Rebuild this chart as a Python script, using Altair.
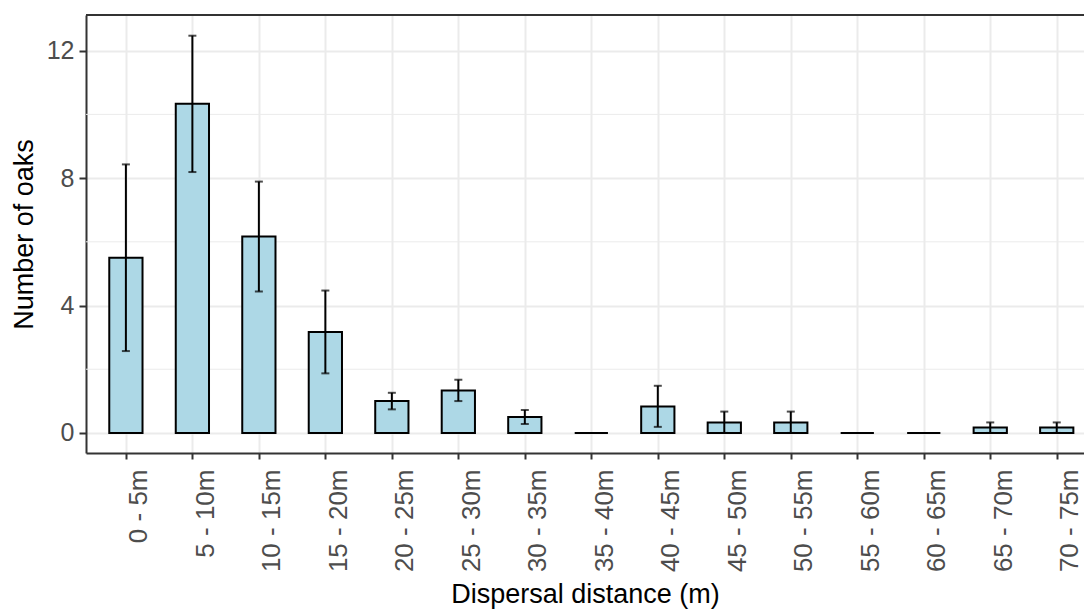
import altair as alt
import pandas as pd

categories = ["0 - 5m", "5 - 10m", "10 - 15m", "15 - 20m", "20 - 25m", "25 - 30m",
              "30 - 35m", "35 - 40m", "40 - 45m", "45 - 50m", "50 - 55m", "55 - 60m",
              "60 - 65m", "65 - 70m", "70 - 75m"]
means = [5.5, 10.33, 6.17, 3.17, 1.0, 1.33, 0.5, 0.0, 0.83, 0.33, 0.33, 0.0, 0.0, 0.17, 0.17]
lower = [2.57, 8.19, 4.44, 1.87, 0.74, 1.0, 0.28, 0.0, 0.19, 0.0, 0.0, 0.0, 0.0, 0.0, 0.0]
upper = [8.43, 12.47, 7.89, 4.47, 1.26, 1.67, 0.72, 0.0, 1.48, 0.67, 0.67, 0.0, 0.0, 0.33, 0.33]
y_ticks = [0, 4, 8, 12]
y_minor = [2, 6, 10]
x_domain = [-0.6, 14.41]
y_domain = [-0.63, 13.12]

df = pd.DataFrame({
    "category": categories,
    "idx": list(range(len(categories))),
    "mean": means,
    "lower": lower,
    "upper": upper,
})

FONT = "Liberation Sans, Arial, sans-serif"
label_expr = "[" + ",".join("'" + c + "'" for c in categories) + "][datum.value]"

x_scale = alt.Scale(domain=x_domain, nice=False, zero=False)
y_scale = alt.Scale(domain=y_domain, nice=False, zero=False)

x_axis = alt.Axis(
    values=list(range(len(categories))), labelExpr=label_expr,
    labelAngle=270, labelAlign="right", labelBaseline="top",
    labelFontSize=26, labelFont=FONT, labelColor="#4D4D4D", labelPadding=10,
    labelOverlap=False, labelFlush=False,
    grid=True, gridColor="#EBEBEB", gridWidth=2,
    tickColor="#333333", tickWidth=2, tickSize=6,
    domainColor="#333333", domainWidth=2,
    title="Dispersal distance (m)", titleFontSize=27, titleFont=FONT,
    titleColor="black", titleFontWeight="normal", titlePadding=10,
)
y_axis = alt.Axis(
    values=y_ticks,
    labelFontSize=25, labelFont=FONT, labelColor="#4D4D4D", labelPadding=5,
    grid=True, gridColor="#EBEBEB", gridWidth=2,
    tickColor="#333333", tickWidth=2, tickSize=7,
    domainColor="#333333", domainWidth=2,
    title="Number of oaks", titleFontSize=27, titleFont=FONT,
    titleColor="black", titleFontWeight="normal", titlePadding=8,
)

base = alt.Chart(df)

minor = alt.Chart(pd.DataFrame({"v": y_minor})).mark_rule(
    color="#EBEBEB", strokeWidth=1
).encode(y=alt.Y("v:Q", scale=y_scale, axis=y_axis))

bars = base.transform_calculate(
    xl="datum.idx - 0.25", xr="datum.idx + 0.25"
).mark_bar(fill="#ADD8E6", stroke="black", strokeWidth=2).encode(
    x=alt.X("xl:Q", scale=x_scale, axis=x_axis),
    x2="xr:Q",
    y=alt.Y("mean:Q", scale=y_scale, axis=y_axis),
    y2=alt.datum(0),
)

err = base.transform_filter("datum.upper > datum.lower")

err_line = err.mark_rule(color="black", strokeWidth=2).encode(
    x=alt.X("idx:Q", scale=x_scale, axis=x_axis),
    y=alt.Y("lower:Q", scale=y_scale, axis=y_axis),
    y2="upper:Q",
)
cap_hi = err.mark_tick(color="black", orient="horizontal", size=8, thickness=2).encode(
    x=alt.X("idx:Q", scale=x_scale, axis=x_axis),
    y=alt.Y("upper:Q", scale=y_scale, axis=y_axis),
)
cap_lo = err.mark_tick(color="black", orient="horizontal", size=8, thickness=2).encode(
    x=alt.X("idx:Q", scale=x_scale, axis=x_axis),
    y=alt.Y("lower:Q", scale=y_scale, axis=y_axis),
)

top_border = alt.Chart(alt.Data(values=[{}])).mark_rule(
    color="#333333", strokeWidth=2
).encode(y=alt.datum(y_domain[1]))

chart = alt.layer(minor, bars, err_line, cap_hi, cap_lo, top_border).properties(
    width=998, height=438,
    autosize=alt.AutoSizeParams(type="none"),
    padding={"left": 86, "top": 15, "right": 0, "bottom": 158},
    background="white",
).configure_view(strokeWidth=0)

chart.save("out.html", embed_options={"renderer": "svg", "actions": False})
